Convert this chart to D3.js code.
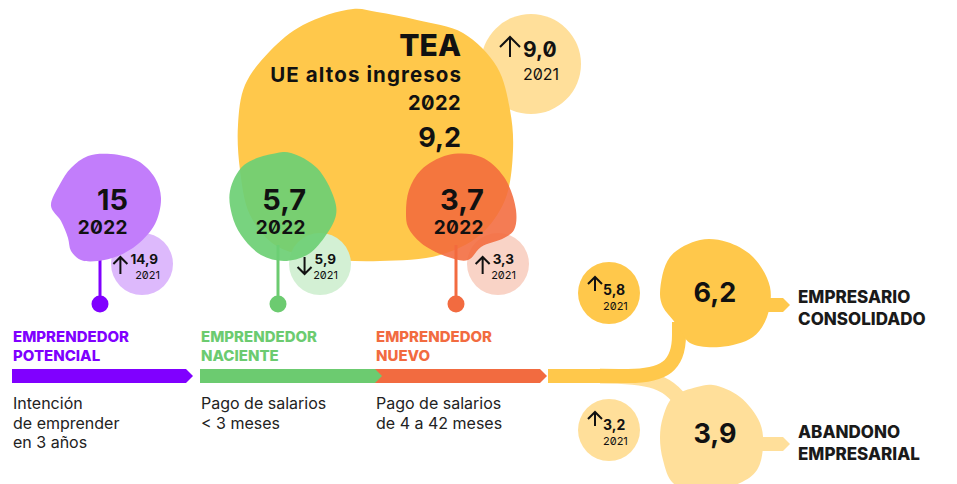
<!DOCTYPE html>
<html><head><meta charset="utf-8">
<script src="https://cdn.jsdelivr.net/npm/d3@7"></script>
<style>
html,body{margin:0;padding:0;background:#fff;}
svg{display:block;font-family:Inter,"DejaVu Sans",sans-serif;font-feature-settings:"zero" 1;}
</style></head><body>
<svg id="chart" width="957" height="484"></svg>
<script>
// ---------- DATA ----------
const stageTitles = [["EMPRENDEDOR","POTENCIAL"],["EMPRENDEDOR","NACIENTE"],["EMPRENDEDOR","NUEVO"]];
const stageNotes = [["Intención","de emprender","en 3 años"],["Pago de salarios","< 3 meses"],["Pago de salarios","de 4 a 42 meses"]];
const stageValues2022 = [15, 5.7, 3.7];
const stageValues2021 = [14.9, 5.9, 3.3];
const teaTitle = ["TEA", "UE altos ingresos"];
const teaValue2022 = 9.2;
const teaValue2021 = 9.0;
const outcomeTitles = [["EMPRESARIO","CONSOLIDADO"],["ABANDONO","EMPRESARIAL"]];
const outcomeValues2022 = [6.2, 3.9];
const outcomeValues2021 = [5.8, 3.2];
const years = ["2022", "2021"];

// ---------- STYLE ----------
const stageColors = ["#8000FF", "#6CCB70", "#F26B40"];
const stageBlobColors = ["#C27DFB", "#6DCF74", "#F26A3C"];
const stageBlobOpacity = [1, 0.92, 0.88];
const stageLightColors = ["#DDB9FC", "#D3F0D4", "#F9D3C6"];
const yellow = "#FFC84B", lightYellow = "#FFDF9A", ink = "#111";

// blob outlines (relative shape offsets, styling only)
const blobShapes = {
  purple: [[-55,-2],[-45,13],[-38,30],[-35,43],[-25,52],[-8,53],[12,48],[32,36],[49,16],[55,-10],[49,-30],[32,-47],[5,-54],[-18,-52],[-35,-40],[-46,-24]],
  green: [[-54,-17],[-40,-43],[-7,-55],[7,-55],[33,-40],[50,-10],[52,7],[40,30],[23,47],[0,53],[-23,47],[-43,27],[-52,7]],
  orange: [[-56,5],[-54,19],[-41,35],[-14,49],[6,52],[19,39],[42,30],[52,22],[54,2],[42,-31],[19,-51],[-14,-53],[-41,-38],[-53,-18]],
  tea: [[-137,-10],[-130,-50],[-105,-84],[-72,-110],[-22,-126],[2,-123],[42,-115],[88,-102],[122,-68],[135,-25],[138,15],[130,65],[105,100],[65,120],[5,126],[-55,123],[-100,110],[-125,80],[-135,35]],
  up: [[-55,0],[-52,14],[-42,27],[-35,37],[-25,50],[5,54],[38,44],[52,24],[55,-6],[38,-36],[12,-51],[-15,-53],[-45,-36]],
  down: [[-52,0],[-49,23],[-39,46],[-12,55],[28,46],[45,33],[51,10],[48,-14],[28,-40],[1,-52],[-15,-50],[-39,-40],[-49,-20]]
};
const stageShapeKeys = ["purple","green","orange"];

// ---------- HELPERS ----------
const es = d3.formatLocale({decimal: ",", thousands: ".", grouping: [3], currency: ["", " €"]});
const f1 = es.format(".1f");
const fmt = v => (Number.isInteger(v) && v >= 10) ? String(v) : f1(v);

const svg = d3.select("#chart");
const blobLine = d3.line().curve(d3.curveCatmullRomClosed.alpha(0.5));

function blob(cx, cy, key, fill, op) {
  svg.append("path")
    .attr("d", blobLine(blobShapes[key].map(p => [cx + p[0], cy + p[1]])))
    .attr("fill", fill).attr("fill-opacity", op == null ? 1 : op);
}
function arrow(g, xRight, yTop, w, h, up) {
  const xc = xRight - w / 2, hw = w / 2;
  const tip = up ? yTop : yTop + h, dir = up ? 1 : -1;
  g.append("path")
    .attr("d", `M${xc},${yTop}V${yTop + h}M${xc - hw},${tip + dir * hw}L${xc},${tip}L${xc + hw},${tip + dir * hw}`)
    .attr("fill", "none").attr("stroke", ink).attr("stroke-width", 2).attr("stroke-linecap", "butt").attr("stroke-linejoin", "miter");
}

// ---------- SCALES / LAYOUT ----------
const stageIdx = d3.range(stageTitles.length);
const xStart = d3.scaleLinear().domain([0, 1, 2, 3]).range([12, 200, 375, 548]);
const xStem = d3.scaleLinear().domain([0, 2]).range([100, 456]);
const barTop = 369, barH = 14;

// ---------- TEA ----------
const teaCx = 375, teaCy = 135;
const teaBadge = {cx: 531, cy: 64, r: 50};
svg.append("circle").attr("cx", teaBadge.cx).attr("cy", teaBadge.cy).attr("r", teaBadge.r).attr("fill", lightYellow);
blob(teaCx, teaCy, "tea", yellow);

// ---------- STAGE small circles, stems, blobs ----------
const badgeCx = i => xStem(i) + 42, badgeCy = 264, badgeR = 31;
const blobCx = i => xStem(i) + 6, blobCy = 208;
stageIdx.forEach(i => {
  svg.append("circle").attr("cx", badgeCx(i)).attr("cy", badgeCy).attr("r", badgeR).attr("fill", stageLightColors[i]);
});
stageIdx.forEach(i => {
  svg.append("line").attr("x1", xStem(i)).attr("x2", xStem(i)).attr("y1", 245).attr("y2", 304)
    .attr("stroke", stageColors[i]).attr("stroke-width", 3);
  svg.append("circle").attr("cx", xStem(i)).attr("cy", 304).attr("r", 8.5).attr("fill", stageColors[i]);
});
stageIdx.forEach(i => blob(blobCx(i), blobCy, stageShapeKeys[i], stageBlobColors[i], stageBlobOpacity[i]));

// ---------- BARS ----------
const barTip = [193, 382, 547];
[2, 1, 0].forEach(i => {
  const x0 = xStart(i), x1 = barTip[i], m = barTop + barH / 2;
  svg.append("path")
    .attr("d", `M${x0},${barTop}H${x1 - 7}L${x1},${m}L${x1 - 7},${barTop + barH}H${x0}Z`)
    .attr("fill", stageColors[i]);
});

// ---------- OUTCOME flows & blobs ----------
const outCx = 715, outCy = [293, 437];
svg.append("path").attr("d", `M600,376C648,376 672,380 686,410`)
  .attr("fill", "none").attr("stroke", lightYellow).attr("stroke-width", 15);
blob(outCx - 3, outCy[1], "down", lightYellow);
svg.append("path").attr("d", `M${xStart(3)},${barTop + barH / 2}H628C664,${barTop + barH / 2} 679,366 679,335V322`)
  .attr("fill", "none").attr("stroke", yellow).attr("stroke-width", 14);
blob(outCx, outCy[0], "up", yellow);
const tailY = [305, 444];
outcomeValues2022.forEach((v, k) => {
  const c = k === 0 ? yellow : lightYellow, y = tailY[k];
  svg.append("path").attr("d", `M745,${y - 7}H783L790,${y}L783,${y + 7}H745Z`).attr("fill", c);
});
const outBadge = [{cx: 609, cy: 293}, {cx: 609, cy: 430}];
outBadge.forEach((b, k) => {
  svg.append("circle").attr("cx", b.cx).attr("cy", b.cy).attr("r", 31).attr("fill", k === 0 ? yellow : lightYellow);
});

// ---------- TEXT ----------
const T = svg.append("g").attr("fill", ink);
// TEA text block
T.append("text").attr("x", 461).attr("y", 56).attr("text-anchor", "end").attr("font-size", 30).attr("font-weight", 800).text(teaTitle[0]);
T.append("text").attr("x", 461).attr("y", 82).attr("text-anchor", "end").attr("font-size", 20.5).attr("font-weight", 700).attr("letter-spacing", 1.1).attr("dx", 1.1).text(teaTitle[1]);
T.append("text").attr("x", 461).attr("y", 110).attr("text-anchor", "end").attr("font-size", 20).attr("font-weight", 700).attr("letter-spacing", 0.4).text(years[0]);
T.append("text").attr("x", 461).attr("y", 147).attr("text-anchor", "end").attr("font-size", 27).attr("font-weight", 700).text(fmt(teaValue2022));
// TEA badge
{
  const x = teaBadge.cx - 8, yb = teaBadge.cy - 7;
  T.append("text").attr("x", x).attr("y", yb).attr("font-size", 21).attr("font-weight", 700).text(fmt(teaValue2021));
  T.append("text").attr("x", x).attr("y", teaBadge.cy + 16).attr("font-size", 16).attr("font-weight", 400).text(years[1]);
  arrow(T, x - 3, yb - 20, 20, 20, teaValue2022 > teaValue2021);
}

// stage blobs & badges text
stageIdx.forEach(i => {
  const rx = blobCx(i) + 22;
  T.append("text").attr("x", rx).attr("y", 210).attr("text-anchor", "end").attr("font-size", 29).attr("font-weight", 700).text(fmt(stageValues2022[i]));
  T.append("text").attr("x", rx).attr("y", 234).attr("text-anchor", "end").attr("font-size", 19).attr("font-weight", 700).attr("letter-spacing", 0.4).text(years[0]);
  const bx = badgeCx(i);
  const vt = T.append("text").attr("x", bx + 16).attr("y", 264).attr("text-anchor", "end").attr("font-size", 13.5).attr("font-weight", 700).text(fmt(stageValues2021[i]));
  T.append("text").attr("x", bx + 18).attr("y", 279).attr("text-anchor", "end").attr("font-size", 11).attr("font-weight", 400).text(years[1]);
  const wv = vt.node().getComputedTextLength();
  arrow(T, bx + 16 - wv - 3, 257, 14, 17, stageValues2022[i] > stageValues2021[i]);
});

// stage titles & notes
stageIdx.forEach(i => {
  const x = xStart(i) + 1;
  stageTitles[i].forEach((t, j) => {
    svg.append("text").attr("x", x).attr("y", 342 + j * 19).attr("font-size", 15).attr("font-weight", 800)
      .attr("fill", stageColors[i]).text(t);
  });
  stageNotes[i].forEach((t, j) => {
    T.append("text").attr("x", x).attr("y", 409 + j * 19.5).attr("font-size", 16).attr("font-weight", 400).attr("fill", "#222").text(t);
  });
});

// outcomes text
outcomeValues2022.forEach((v, k) => {
  T.append("text").attr("x", outCx).attr("y", [302, 443][k]).attr("text-anchor", "middle").attr("font-size", 27).attr("font-weight", 700).text(fmt(v));
  outcomeTitles[k].forEach((t, j) => {
    T.append("text").attr("x", 798).attr("y", [303, 438][k] + j * 22).attr("font-size", 17).attr("font-weight", 800).attr("fill", "#1a1a1a").text(t);
  });
  const b = outBadge[k];
  const x = b.cx - 6, yb = b.cy + (k === 0 ? 2 : 0);
  T.append("text").attr("x", x).attr("y", yb).attr("font-size", 14).attr("font-weight", 700).text(fmt(outcomeValues2021[k]));
  T.append("text").attr("x", x).attr("y", yb + 14.5).attr("font-size", 11).attr("font-weight", 400).text(years[1]);
  arrow(T, x - 1, yb - 18, 14, 14, v > outcomeValues2021[k]);
});
</script>
</body></html>
